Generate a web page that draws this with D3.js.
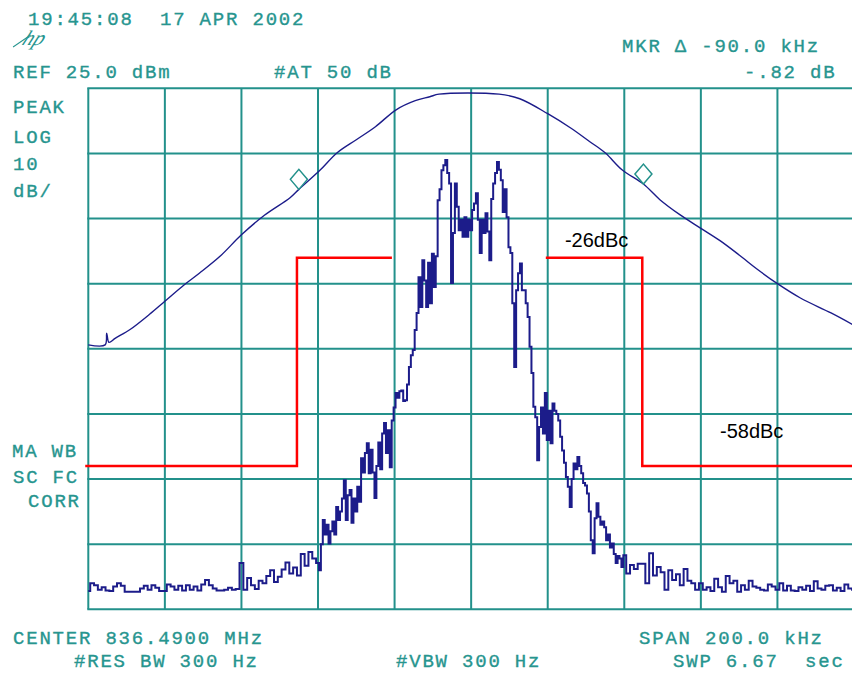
<!DOCTYPE html>
<html>
<head>
<meta charset="utf-8">
<script src="https://cdn.jsdelivr.net/npm/d3@7"></script>
<style>
  html, body { margin: 0; padding: 0; background: #ffffff; }
  svg { display: block; }
  .scr { font-family: "Liberation Mono", "DejaVu Sans Mono", monospace; font-size: 19px; letter-spacing: 1.8px; fill: #27958f; stroke: #27958f; stroke-width: 0.35px; }
  .note { font-family: "Liberation Sans", Arial, sans-serif; font-size: 20px; fill: #000000; }
</style>
</head>
<body>
<svg id="chart" width="852" height="673"></svg>
<script>
// Sweep settings: center 836.49 MHz, span 200 kHz, 10 dB/div from REF 25 dBm
const gridFreqKHz = [-100, -80, -60, -40, -20, 0, 20, 40, 60, 80, 100];
const gridLevelDbm = [25, 15, 5, -5, -15, -25, -35, -45, -55];

// Sweep points: 1 kHz apart in the skirts, 0.5 kHz apart across the channel
const traceFreqKHz = [].concat(
  d3.range(-100, -40, 1),
  d3.range(-40, 40.25, 0.5),
  d3.range(41, 101, 1)
);

// Measured trace level (dBm) at each sweep point
const traceLevel = [
  // -100 … -41 kHz
  -52.2,-51.0,-51.3,-52.0,-51.6,-52.1,-52.2,-51.5,-51.0,-51.4,
  -52.3,-52.3,-52.3,-52.3,-51.8,-51.4,-52.0,-51.3,-51.7,-52.2,
  -52.2,-51.2,-51.5,-52.0,-51.4,-52.1,-51.3,-52.0,-51.5,-52.1,
  -51.2,-50.5,-51.3,-51.8,-52.1,-52.1,-52.0,-51.7,-52.0,-51.9,
  -47.9,-52.0,-50.2,-51.3,-51.9,-50.6,-51.0,-49.9,-49.0,-50.8,
  -50.0,-48.9,-47.8,-49.5,-48.6,-49.8,-46.5,-48.3,-46.2,-47.2,
  // -40 … +40 kHz
  -47.9,-49.0,-45.0,-41.3,-43.5,-42.0,-44.9,-43.0,-41.5,-43.5,
  -39.3,-41.3,-40.0,-38.0,-35.2,-41.3,-37.5,-36.7,-41.7,-38.0,
  -40.0,-36.2,-38.5,-31.8,-34.0,-31.0,-29.5,-34.1,-30.5,-34.0,
  -37.9,-33.0,-29.4,-33.5,-28.0,-26.4,-31.0,-27.5,-33.2,-26.0,
  -24.0,-21.8,-22.5,-21.5,-21.4,-23.0,-22.9,-20.5,-17.8,-16.0,
  -15.2,-12.1,-9.5,-4.0,-8.6,-1.4,-4.5,-8.6,-1.8,-8.0,
  -0.4,-5.5,-0.8,7.8,9.5,12.4,13.2,14.0,12.0,10.4,
  -4.9,2.8,10.4,6.8,3.2,4.8,2.2,5.2,2.2,4.8,
  3.2,6.3,7.3,8.9,4.8,-0.3,4.8,2.8,5.8,3.0,
  -1.4,8.0,10.4,12.0,13.7,12.5,10.9,6.0,9.5,5.2,
  0.6,-0.3,-8.0,-17.8,-6.0,-3.4,-1.9,-6.0,-6.0,-8.0,
  -10.1,-14.7,-18.7,-23.9,-25.5,-32.1,-27.0,-24.0,-28.0,-21.8,
  -29.0,-24.5,-29.5,-23.4,-24.5,-25.0,-26.0,-28.5,-30.6,-32.5,
  -34.7,-36.2,-39.3,-35.0,-32.6,-33.5,-31.6,-33.0,-34.1,-35.6,
  -36.0,-37.2,-40.0,-44.4,-46.4,-41.0,-38.7,-40.8,-42.0,-41.5,
  -42.4,-44.4,-43.5,-45.5,-44.9,-46.5,-47.9,-46.8,-47.2,-48.5,
  -46.7,
  // +41 … +100 kHz
  -49.5,-48.2,-48.8,-48.0,-48.0,-51.0,-46.4,-49.8,-48.5,-49.3,
  -52.0,-49.0,-50.5,-49.6,-51.3,-48.8,-50.6,-51.0,-52.0,-51.0,
  -52.0,-51.6,-52.2,-50.3,-51.6,-52.3,-49.9,-51.0,-50.6,-52.3,
  -51.3,-52.0,-50.6,-51.5,-51.7,-52.0,-52.1,-51.2,-51.5,-52.0,
  -51.0,-52.1,-51.4,-52.1,-52.2,-51.6,-52.0,-51.4,-52.2,-50.7,
  -51.8,-52.0,-51.4,-51.3,-52.1,-51.7,-52.2,-51.2,-51.8,-52.0
];

// Second (filter) trace, sampled at irregular frequencies
const filterFreq = [-100,-95.6,-95.2,-94.6,-93,-89,-84,-80,-75,-71,
  -65.6,-60,-54,-47.3,-45,-39.5,-35,-30,-25,-19.6,
  -14.6,-10.8,-8.4,7.3,12.7,20,26,31,35,39.4,
  45,49.3,54.5,60,65,70,75,80,86,94,100];
const filterLevel = [-14.4,-14.4,-12.6,-14.0,-13.4,-12.0,-9.7,-7.7,-5.2,-3.4,
  -0.8,2.5,5.5,8.2,9.48,12.4,15.1,17.1,19.1,21.7,
  23.1,23.7,24.1,24.1,23.4,21.1,18.9,16.8,15.1,12.5,
  10.3,7.9,5.6,3.5,1.6,-0.6,-2.9,-5.0,-7.2,-9.5,-11.4];

// Markers (delta pair)
const markerFreq = [-45, 45];
const markerLevel = [9.48, 10.30];

// Emission mask, in dBc relative to the 25 dBm reference line
const refLevel = 25;
const maskLeftFreq = [-100.8, -45.5, -45.5, -20.7];
const maskLeftDbc = [-58, -58, -26, -26];
const maskRightFreq = [19.5, 44.7, 44.7, 100.5];
const maskRightDbc = [-26, -26, -58, -58];
const maskLabels = ["-26dBc", "-58dBc"];
const maskLabelFreq = [24.5, 65];
const maskLabelDbc = [-24.4, -53.7];

// Screen annotations
const headerTexts = [
  { t: "19:45:08  17 APR 2002", x: 28, y: 25 },
  { t: "MKR \u0394 -90.0 kHz", x: 622, y: 52 },
  { t: "REF 25.0 dBm", x: 13, y: 78 },
  { t: "#AT 50 dB", x: 274, y: 78 },
  { t: "-.82 dB", x: 744, y: 78 }
];
const sideTexts = [
  { t: "PEAK", x: 13, y: 113 },
  { t: "LOG", x: 13, y: 143 },
  { t: "10", x: 13, y: 170 },
  { t: "dB/", x: 13, y: 197 },
  { t: "MA WB", x: 12, y: 457 },
  { t: "SC FC", x: 13, y: 483 },
  { t: "CORR", x: 28, y: 507 }
];
const footerTexts = [
  { t: "CENTER 836.4900 MHz", x: 13, y: 644 },
  { t: "SPAN 200.0 kHz", x: 639, y: 644 },
  { t: "#RES BW 300 Hz", x: 74, y: 667 },
  { t: "#VBW 300 Hz", x: 396, y: 667 },
  { t: "SWP 6.67  sec", x: 673, y: 667 }
];

const svg = d3.select("#chart");
const gridColor = "#23918b";
const traceColor = "#1c1c8a";

const x = d3.scaleLinear().domain([-100, 100]).range([88.3, 854]);
const y = d3.scaleLinear().domain([-55, 25]).range([609.3, 88.3]);

// Graticule
const grid = svg.append("g");
grid.selectAll("line.v").data(gridFreqKHz).join("line")
  .attr("x1", d => x(d)).attr("x2", d => x(d))
  .attr("y1", y(25)).attr("y2", y(-55))
  .attr("stroke", gridColor).attr("stroke-width", 2);
grid.selectAll("line.h").data(gridLevelDbm).join("line")
  .attr("x1", x(-100) - 1).attr("x2", x(100) + 1)
  .attr("y1", d => y(d)).attr("y2", d => y(d))
  .attr("stroke", gridColor).attr("stroke-width", 2);

// Filter response trace
const filterPts = filterFreq.map((f, i) => [f, filterLevel[i]]);
svg.append("path")
  .datum(filterPts)
  .attr("fill", "none")
  .attr("stroke", traceColor)
  .attr("stroke-width", 1.4)
  .attr("d", d3.line().x(d => x(d[0])).y(d => y(d[1])).curve(d3.curveCatmullRom.alpha(0.5)));

// Markers: diamonds resting on the filter trace
const diamond = d => {
  const cx = x(d[0]), by = y(d[1]);
  return `M${cx},${by} L${cx + 8.5},${by - 10} L${cx},${by - 20} L${cx - 8.5},${by - 10} Z`;
};
svg.selectAll("path.mkr").data(markerFreq.map((f, i) => [f, markerLevel[i]])).join("path")
  .attr("class", "mkr")
  .attr("d", diamond)
  .attr("fill", "#ffffff")
  .attr("stroke", gridColor)
  .attr("stroke-width", 1.5);

// Emission mask
const maskLine = d3.line().x(d => x(d[0])).y(d => y(refLevel + d[1]));
[[maskLeftFreq, maskLeftDbc], [maskRightFreq, maskRightDbc]].forEach(([fs, ls]) => {
  svg.append("path")
    .datum(fs.map((f, i) => [f, ls[i]]))
    .attr("fill", "none")
    .attr("stroke", "#ff0000")
    .attr("stroke-width", 2.5)
    .attr("d", maskLine);
});
svg.selectAll("text.note").data(maskLabels).join("text")
  .attr("class", "note")
  .attr("x", (d, i) => x(maskLabelFreq[i]))
  .attr("y", (d, i) => y(refLevel + maskLabelDbc[i]))
  .text(d => d);

// Measured spectrum trace
const tracePts = traceLevel.map((v, i) => [traceFreqKHz[i], v]);
svg.append("path")
  .datum(tracePts)
  .attr("fill", "none")
  .attr("stroke", traceColor)
  .attr("stroke-width", 2)
  .attr("d", d3.line().x(d => x(d[0])).y(d => y(d[1])).curve(d3.curveStep));

// Screen texts
svg.selectAll("text.scr").data([...headerTexts, ...sideTexts, ...footerTexts]).join("text")
  .attr("class", "scr")
  .attr("x", d => d.x).attr("y", d => d.y)
  .attr("xml:space", "preserve")
  .style("white-space", "pre")
  .text(d => d.t);

// Instrument logo
const logo = svg.append("g").attr("transform", "translate(12,45) skewX(-25)");
logo.append("text")
  .attr("x", 9).attr("y", 0)
  .attr("font-family", "Liberation Serif, serif")
  .attr("font-style", "italic")
  .attr("font-size", 21)
  .attr("fill", "#27958f")
  .text("hp");
logo.append("line")
  .attr("x1", 2).attr("y1", 2).attr("x2", 14).attr("y2", -10)
  .attr("stroke", "#27958f").attr("stroke-width", 1.5);
</script>
</body>
</html>
